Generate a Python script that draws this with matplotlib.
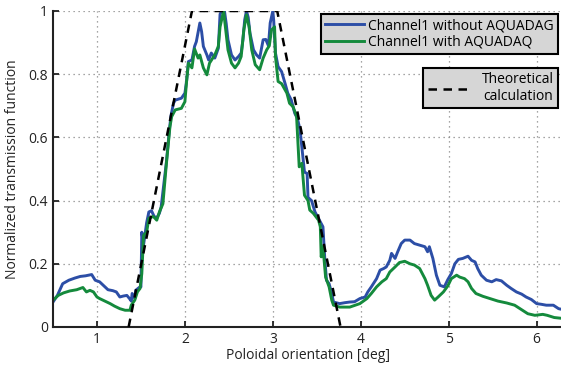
import numpy as np
import matplotlib
matplotlib.use("Agg")
import matplotlib.pyplot as plt
from matplotlib.ticker import FuncFormatter

# --- data ---
x_blue = [0.50, 0.55, 0.61, 0.68, 0.75, 0.81, 0.87, 0.94, 0.98, 1.03, 1.08, 1.125,
          1.18, 1.22, 1.26, 1.30, 1.34, 1.37, 1.39, 1.40, 1.43, 1.44, 1.48, 1.50,
          1.51, 1.53, 1.565, 1.59, 1.62, 1.65, 1.68, 1.71, 1.73, 1.77, 1.79, 1.82,
          1.84, 1.87, 1.89, 1.96, 2.00, 2.02, 2.04, 2.08, 2.11, 2.13, 2.17, 2.19,
          2.21, 2.25, 2.27, 2.30, 2.34, 2.38, 2.40, 2.42, 2.45, 2.47, 2.49, 2.53,
          2.57, 2.61, 2.64, 2.66, 2.68, 2.70, 2.72, 2.74, 2.78, 2.815, 2.85, 2.89,
          2.92, 2.95, 2.97, 3.00, 3.01, 3.03, 3.06, 3.10, 3.14, 3.17, 3.21, 3.25,
          3.28, 3.31, 3.33, 3.36, 3.39, 3.40, 3.44, 3.48, 3.53, 3.57, 3.59, 3.61,
          3.64, 3.67, 3.69, 3.76, 3.82, 3.875, 3.93, 3.99, 4.05, 4.08, 4.12, 4.18,
          4.22, 4.26, 4.29, 4.33, 4.35, 4.39, 4.42, 4.46, 4.50, 4.56, 4.61, 4.67,
          4.73, 4.76, 4.78, 4.82, 4.86, 4.90, 4.95, 4.99, 5.03, 5.07, 5.11, 5.16,
          5.22, 5.26, 5.30, 5.33, 5.37, 5.43, 5.49, 5.54, 5.60, 5.66, 5.71, 5.77,
          5.83, 5.88, 5.94, 6.00, 6.05, 6.11, 6.19, 6.25, 6.30]
y_blue = [0.079, 0.10, 0.137, 0.148, 0.155, 0.16, 0.162, 0.166, 0.148, 0.143, 0.13, 0.118,
          0.115, 0.111, 0.095, 0.098, 0.10, 0.09, 0.082, 0.106, 0.09, 0.116, 0.125, 0.127,
          0.30, 0.26, 0.33, 0.364, 0.368, 0.35, 0.345, 0.36, 0.38, 0.475, 0.523, 0.613,
          0.666, 0.708, 0.718, 0.724, 0.74, 0.78, 0.84, 0.845, 0.888, 0.903, 0.962, 0.935,
          0.888, 0.861, 0.845, 0.867, 0.851, 0.882, 0.99, 1.0, 1.0, 0.96, 0.909, 0.861,
          0.845, 0.856, 0.867, 0.909, 0.972, 1.0, 0.98, 0.93, 0.877, 0.861, 0.851, 0.909,
          0.91, 0.89, 0.962, 1.0, 0.97, 0.867, 0.824, 0.808, 0.77, 0.74, 0.718, 0.676,
          0.66, 0.623, 0.57, 0.49, 0.486, 0.41, 0.40, 0.364, 0.338, 0.317, 0.22, 0.148,
          0.137, 0.106, 0.079, 0.074, 0.077, 0.079, 0.08, 0.09, 0.095, 0.111, 0.127, 0.153,
          0.18, 0.185, 0.19, 0.211, 0.233, 0.217, 0.238, 0.264, 0.275, 0.275, 0.264, 0.259,
          0.254, 0.238, 0.254, 0.217, 0.164, 0.132, 0.127, 0.15, 0.169, 0.20, 0.214, 0.217,
          0.224, 0.211, 0.206, 0.185, 0.164, 0.148, 0.143, 0.15, 0.146, 0.132, 0.122, 0.111,
          0.104, 0.095, 0.087, 0.074, 0.072, 0.069, 0.069, 0.058, 0.055]

x_green = [0.50, 0.56, 0.62, 0.69, 0.77, 0.84, 0.88, 0.92, 0.96, 1.00, 1.03, 1.09,
           1.15, 1.20, 1.26, 1.32, 1.375, 1.39, 1.43, 1.46, 1.49, 1.51, 1.53, 1.565,
           1.59, 1.64, 1.68, 1.71, 1.75, 1.79, 1.83, 1.85, 1.89, 1.96, 2.00, 2.02,
           2.04, 2.08, 2.11, 2.15, 2.17, 2.21, 2.25, 2.28, 2.34, 2.38, 2.40, 2.44,
           2.46, 2.49, 2.53, 2.57, 2.61, 2.64, 2.67, 2.70, 2.73, 2.76, 2.80, 2.85,
           2.89, 2.93, 2.96, 2.985, 3.02, 3.03, 3.06, 3.10, 3.14, 3.16, 3.19, 3.23,
           3.27, 3.29, 3.30, 3.33, 3.36, 3.40, 3.42, 3.46, 3.52, 3.54, 3.55, 3.57,
           3.60, 3.64, 3.67, 3.69, 3.76, 3.875, 3.99, 4.07, 4.12, 4.18, 4.24, 4.29,
           4.33, 4.39, 4.44, 4.50, 4.56, 4.61, 4.67, 4.73, 4.76, 4.80, 4.84, 4.88,
           4.94, 4.99, 5.03, 5.09, 5.125, 5.18, 5.22, 5.26, 5.31, 5.39, 5.47, 5.56,
           5.66, 5.75, 5.84, 5.90, 5.98, 6.07, 6.12, 6.20, 6.30]
y_green = [0.085, 0.10, 0.108, 0.114, 0.118, 0.125, 0.111, 0.116, 0.111, 0.095, 0.09, 0.082,
           0.074, 0.066, 0.058, 0.053, 0.053, 0.069, 0.085, 0.111, 0.122, 0.169, 0.29, 0.30,
           0.344, 0.35, 0.338, 0.364, 0.39, 0.518, 0.634, 0.666, 0.687, 0.692, 0.713, 0.78,
           0.835, 0.82, 0.88, 0.851, 0.861, 0.82, 0.798, 0.835, 0.861, 0.888, 0.95, 1.0,
           0.95, 0.877, 0.835, 0.82, 0.835, 0.856, 0.94, 0.988, 0.95, 0.877, 0.83, 0.814,
           0.851, 0.877, 0.89, 0.94, 0.95, 0.856, 0.777, 0.77, 0.75, 0.74, 0.708, 0.697,
           0.666, 0.56, 0.507, 0.518, 0.417, 0.40, 0.37, 0.36, 0.338, 0.317, 0.222, 0.254,
           0.158, 0.127, 0.085, 0.069, 0.063, 0.063, 0.074, 0.09, 0.106, 0.127, 0.143, 0.153,
           0.174, 0.19, 0.204, 0.208, 0.20, 0.196, 0.185, 0.153, 0.132, 0.10, 0.085, 0.095,
           0.111, 0.13, 0.153, 0.164, 0.158, 0.153, 0.143, 0.122, 0.106, 0.097, 0.09, 0.082,
           0.076, 0.069, 0.053, 0.042, 0.037, 0.040, 0.037, 0.030, 0.027]

x_theory = [1.36, 2.08, 3.05, 3.77]
y_theory = [0.0, 1.0, 1.0, 0.0]

plt.rcParams['font.family'] = ['Open Sans', 'DejaVu Sans']

fig = plt.figure(figsize=(5.61, 3.65), dpi=100)
ax = fig.add_axes([53/561, 38/365, 510/561, 316/365])

ax.plot(x_theory, y_theory, color='black', lw=1.8, dashes=(3.4, 2.6), zorder=3)
ax.plot(x_blue, y_blue, color='#2c4ea6', lw=2.1, label='Channel1 without AQUADAG', zorder=2)
ax.plot(x_green, y_green, color='#148a3c', lw=2.1, label='Channel1 with AQUADAQ', zorder=2.5)

ax.set_xlim(0.5, 6.3)
ax.set_ylim(0, 1)
ax.set_xticks([1, 2, 3, 4, 5, 6])
ax.set_yticks([0, 0.2, 0.4, 0.6, 0.8, 1])
ax.yaxis.set_major_formatter(FuncFormatter(lambda v, p: '%g' % v))
ax.grid(True, color='#888888', linestyle=(0, (1, 3)), lw=0.9)
ax.tick_params(direction='in', length=4, width=1.3, labelsize=10, colors='#222222')
for s in ['top', 'right']:
    ax.spines[s].set_visible(False)
for s in ['left', 'bottom']:
    ax.spines[s].set_linewidth(1.5)
    ax.spines[s].set_color('#222222')

ax.set_xlabel('Poloidal orientation [deg]', fontsize=10, labelpad=1, color='#222222')
ax.set_ylabel('Normalized transmission function', fontsize=10, labelpad=6, color='#222222')

leg1 = ax.legend(loc='upper right', bbox_to_anchor=(0.99, 0.99), fontsize=10,
                 fancybox=False, frameon=True, handlelength=2.8, borderpad=0.3,
                 labelspacing=0.1, handletextpad=0.3, borderaxespad=0)
leg1.get_frame().set_facecolor('#d6d6d6')
leg1.get_frame().set_edgecolor('black')
leg1.get_frame().set_linewidth(1.5)
leg1.get_frame().set_alpha(1)
ax.add_artist(leg1)

th = plt.Line2D([], [], color='black', lw=1.8, dashes=(3.4, 2.6))
leg2 = ax.legend([th], ['Theoretical\ncalculation'], loc='upper right',
                 bbox_to_anchor=(0.99, 0.82), fontsize=10, fancybox=False,
                 handlelength=3.3, borderpad=0.3, handletextpad=0.6, borderaxespad=0)
leg2.get_frame().set_facecolor('#d6d6d6')
leg2.get_frame().set_edgecolor('black')
leg2.get_frame().set_linewidth(1.5)
leg2.get_frame().set_alpha(1)
for t in leg2.get_texts():
    t.set_ha('center')

fig.savefig('out.png', dpi=100)
